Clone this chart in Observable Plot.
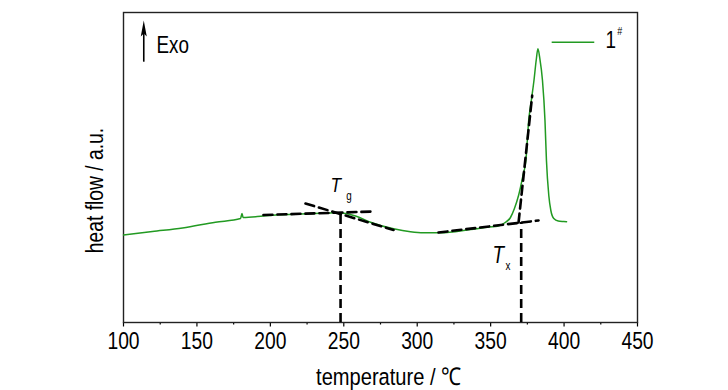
<!DOCTYPE html>
<html><head><meta charset="utf-8">
<script src="https://cdn.jsdelivr.net/npm/d3@7"></script>
<script src="https://cdn.jsdelivr.net/npm/@observablehq/plot@0.6"></script>
<style>body{margin:0;background:#fff} svg{display:block}</style>
</head><body><div id="chart"></div>
<script>
// DSC curve (temperature in °C, heat flow in arbitrary units)
const temperature = [100, 119.7, 140.2, 162.6, 179.7, 180.7, 181.4, 199.4, 205.5, 220.5, 234.1, 245.7, 251.2, 258, 268.2, 283.9, 295.4, 304.3, 315.9, 336.3, 349.2, 354.7, 359.4, 363.5, 366.2, 369, 372, 374, 375.9, 377.7, 379.5, 381, 382.2, 383.5, 385.3, 387, 388, 389.6, 391, 393, 396, 399.8, 401.7];
const heatFlow    = [87.5, 91, 94.5, 100.3, 104, 109, 105, 107, 107.7, 108.5, 109.2, 109.7, 109, 106.5, 100.3, 93.7, 90.7, 89.7, 89.7, 93, 95.5, 96.3, 99.5, 105, 114, 127, 147, 162, 202, 222, 242, 262, 273.7, 264, 242, 202, 162, 127, 112, 104, 101.5, 101, 100.8];
// tangent constructions
const tgTangent1T = [195.3, 270.2], tgTangent1V = [107.5, 111];
const tgTangent2T = [223.9, 283.9], tgTangent2V = [119, 92.5];
const tgOnsetT = 247.8, tgOnsetV = 110;
const txTangent1T = [314.5, 382.6], txTangent1V = [90, 102];
const txTangent2T = [369.0, 378.3], txTangent2V = [100, 227];
const txOnsetT = 370.8, txOnsetV = 100;
// axes
const xTicks = [100, 150, 200, 250, 300, 350, 400, 450];
const xMinorTicks = [125, 175, 225, 275, 325, 375, 425];
const xLabel = "temperature / ℃";
const yLabel = "heat flow / a.u.";
const seriesName = "1";

const FONT = '"Liberation Sans", Arial, sans-serif';
const NARROW = 0.82; // Arial Narrow look
const GREEN = "#229a22";
const curve = temperature.map((t, i) => ({t, v: heatFlow[i]}));
const seg = (T, V) => T.map((t, i) => ({t, v: V[i]}));
const dash = {stroke: "black", strokeWidth: 2.6, strokeDasharray: "9,5"};

const arrowHead = {draw(ctx, size) { ctx.moveTo(0, -10); ctx.lineTo(3, 6); ctx.lineTo(0, 3); ctx.lineTo(-3, 6); ctx.closePath(); }};

const chart = Plot.plot({
  width: 728, height: 390,
  marginLeft: 123, marginRight: 91, marginTop: 12, marginBottom: 68,
  style: {fontFamily: FONT, fontSize: "23px", color: "black", background: "white"},
  x: {domain: [100, 450], label: null},
  y: {domain: [0, 310], axis: null},
  marks: [
    Plot.axisX(xMinorTicks, {tickSize: 2.5, text: null, strokeWidth: 1.2}),
    Plot.axisX(xTicks, {tickSize: 4.5, tickPadding: 5, fontSize: 23.5, label: null, strokeWidth: 1.2}),
    Plot.frame({stroke: "#222", strokeWidth: 1.4}),
    Plot.line(curve, {x: "t", y: "v", stroke: GREEN, strokeWidth: 1.5, curve: "monotone-x"}),
    Plot.line(seg(tgTangent1T, tgTangent1V), {x: "t", y: "v", ...dash}),
    Plot.line(seg(tgTangent2T, tgTangent2V), {x: "t", y: "v", ...dash}),
    Plot.ruleX([tgOnsetT], {y1: 0, y2: tgOnsetV, ...dash}),
    Plot.line(seg(txTangent1T, txTangent1V), {x: "t", y: "v", ...dash}),
    Plot.line(seg(txTangent2T, txTangent2V), {x: "t", y: "v", ...dash}),
    Plot.ruleX([txOnsetT], {y1: 0, y2: txOnsetV, ...dash}),
    // Tg / Tx labels
    Plot.text(["T"], {x: 241, y: 137.5, textAnchor: "start", fontSize: 21, fontStyle: "italic"}),
    Plot.text(["g"], {x: 251.6, y: 126, textAnchor: "start", fontSize: 12}),
    Plot.text(["T"], {x: 351.3, y: 67, textAnchor: "start", fontSize: 23, fontStyle: "italic"}),
    Plot.text(["x"], {x: 360.2, y: 56, textAnchor: "start", fontSize: 12}),
    // Exo arrow
    Plot.ruleX([113.8], {y1: 260.3, y2: 290, stroke: "black", strokeWidth: 1.6}),
    Plot.dot([{x: 113.8, y: 292}], {x: "x", y: "y", symbol: arrowHead, r: 6, fill: "black", stroke: "none"}),
    Plot.text(["Exo"], {x: 122.5, y: 277, textAnchor: "start", fontSize: 23}),
    // legend
    Plot.ruleY([280.3], {x1: 391.9, x2: 420.9, stroke: GREEN, strokeWidth: 1.5}),
    Plot.text([seriesName], {x: 428.2, y: 282, textAnchor: "start", fontSize: 23}),
    Plot.text(["#"], {x: 436.2, y: 291, textAnchor: "start", fontSize: 11}),
    // axis titles
    Plot.text([xLabel], {x: 280.4, y: -55, textAnchor: "middle", fontSize: 24.5}),
    Plot.text([yLabel], {x: 80.9, y: 132, textAnchor: "middle", rotate: -90, fontSize: 23.5})
  ]
});
document.getElementById("chart").append(chart);
// condense the glyphs horizontally to imitate Arial Narrow
chart.querySelectorAll("text").forEach(el => {
  const targets = el.querySelectorAll("tspan").length ? el.querySelectorAll("tspan") : [el];
  targets.forEach(t => {
    const len = t.getComputedTextLength();
    if (len > 0) {
      t.setAttribute("textLength", (len * NARROW).toFixed(2));
      t.setAttribute("lengthAdjust", "spacingAndGlyphs");
    }
  });
});
</script>
</body></html>
